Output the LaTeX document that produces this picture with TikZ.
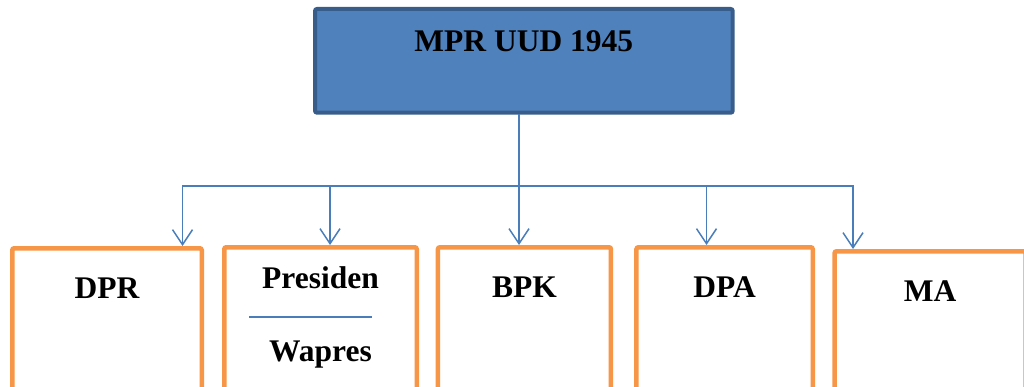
\documentclass[tikz,border=0pt]{standalone}
\usepackage{fontspec}
\setmainfont{Liberation Serif}
\usepackage{tikz}
\usetikzlibrary{arrows.meta,positioning}
\definecolor{mprfill}{RGB}{79,129,189}
\definecolor{mprline}{RGB}{56,93,138}
\definecolor{boxorange}{RGB}{247,150,70}
\definecolor{linkblue}{RGB}{74,126,187}

\begin{document}
\begin{tikzpicture}[
  bbox/.style={rectangle,rounded corners=2pt,align=center,inner sep=0pt,
    font=\bfseries\fontsize{31.5}{36.7}\selectfont},
  mprb/.style={bbox,draw=mprline,line width=4pt,fill=mprfill,
    minimum width=417.7pt,text height=42.4pt,text depth=61.3pt},
  lowb/.style={bbox,draw=boxorange,line width=4.5pt,fill=white,
    text height=50.3pt,text depth=120pt},
  arrow/.style={-{Straight Barb[length=15pt,width=20pt]},line width=1.5pt,color=linkblue},
  conn/.style={line width=1.5pt,line cap=rect,color=linkblue},
]
\useasboundingbox (0,0) rectangle (1024pt,-387pt);
\clip (0,0) rectangle (1024pt,-387pt);

\node[mprb, anchor=north west] (mpr) at (313pt,-7pt) {MPR UUD 1945};
\node[lowb, minimum width=189.5pt, anchor=north west] (dpr) at (10pt,-246pt) {DPR};
\node[lowb, minimum width=192.5pt, text height=114.4pt, text depth=55.9pt,
  right=18pt of dpr, yshift=1pt] (pres)
  {Presiden\\\makebox[143pt][l]{\color{linkblue}\rule[6.9pt]{123pt}{1.7pt}}\\Wapres};
\node[lowb, minimum width=173pt, right=16.7pt of pres] (bpk) {BPK};
\node[lowb, minimum width=176.3pt, right=21pt of bpk] (dpa) {DPA};
\node[lowb, minimum width=191pt, right=17.3pt of dpa, yshift=-4pt] (ma) {MA};

\coordinate (b1) at (182.5pt,-186pt);
\coordinate (b2) at (330pt,-186pt);
\coordinate (b3) at (519pt,-186pt);
\coordinate (b4) at (706.5pt,-186pt);
\coordinate (b5) at (853pt,-186pt);

\draw[conn] (b1) -- (b5);
\draw[conn] (mpr.south -| b3) -- (b3);
\draw[arrow] (b1) -- (b1 |- dpr.north);
\draw[arrow] (b2) -- (b2 |- pres.north);
\draw[arrow] (b3) -- (b3 |- bpk.north);
\draw[arrow] (b4) -- (b4 |- dpa.north);
\draw[arrow] (b5) -- (b5 |- ma.north);
\end{tikzpicture}
\end{document}
